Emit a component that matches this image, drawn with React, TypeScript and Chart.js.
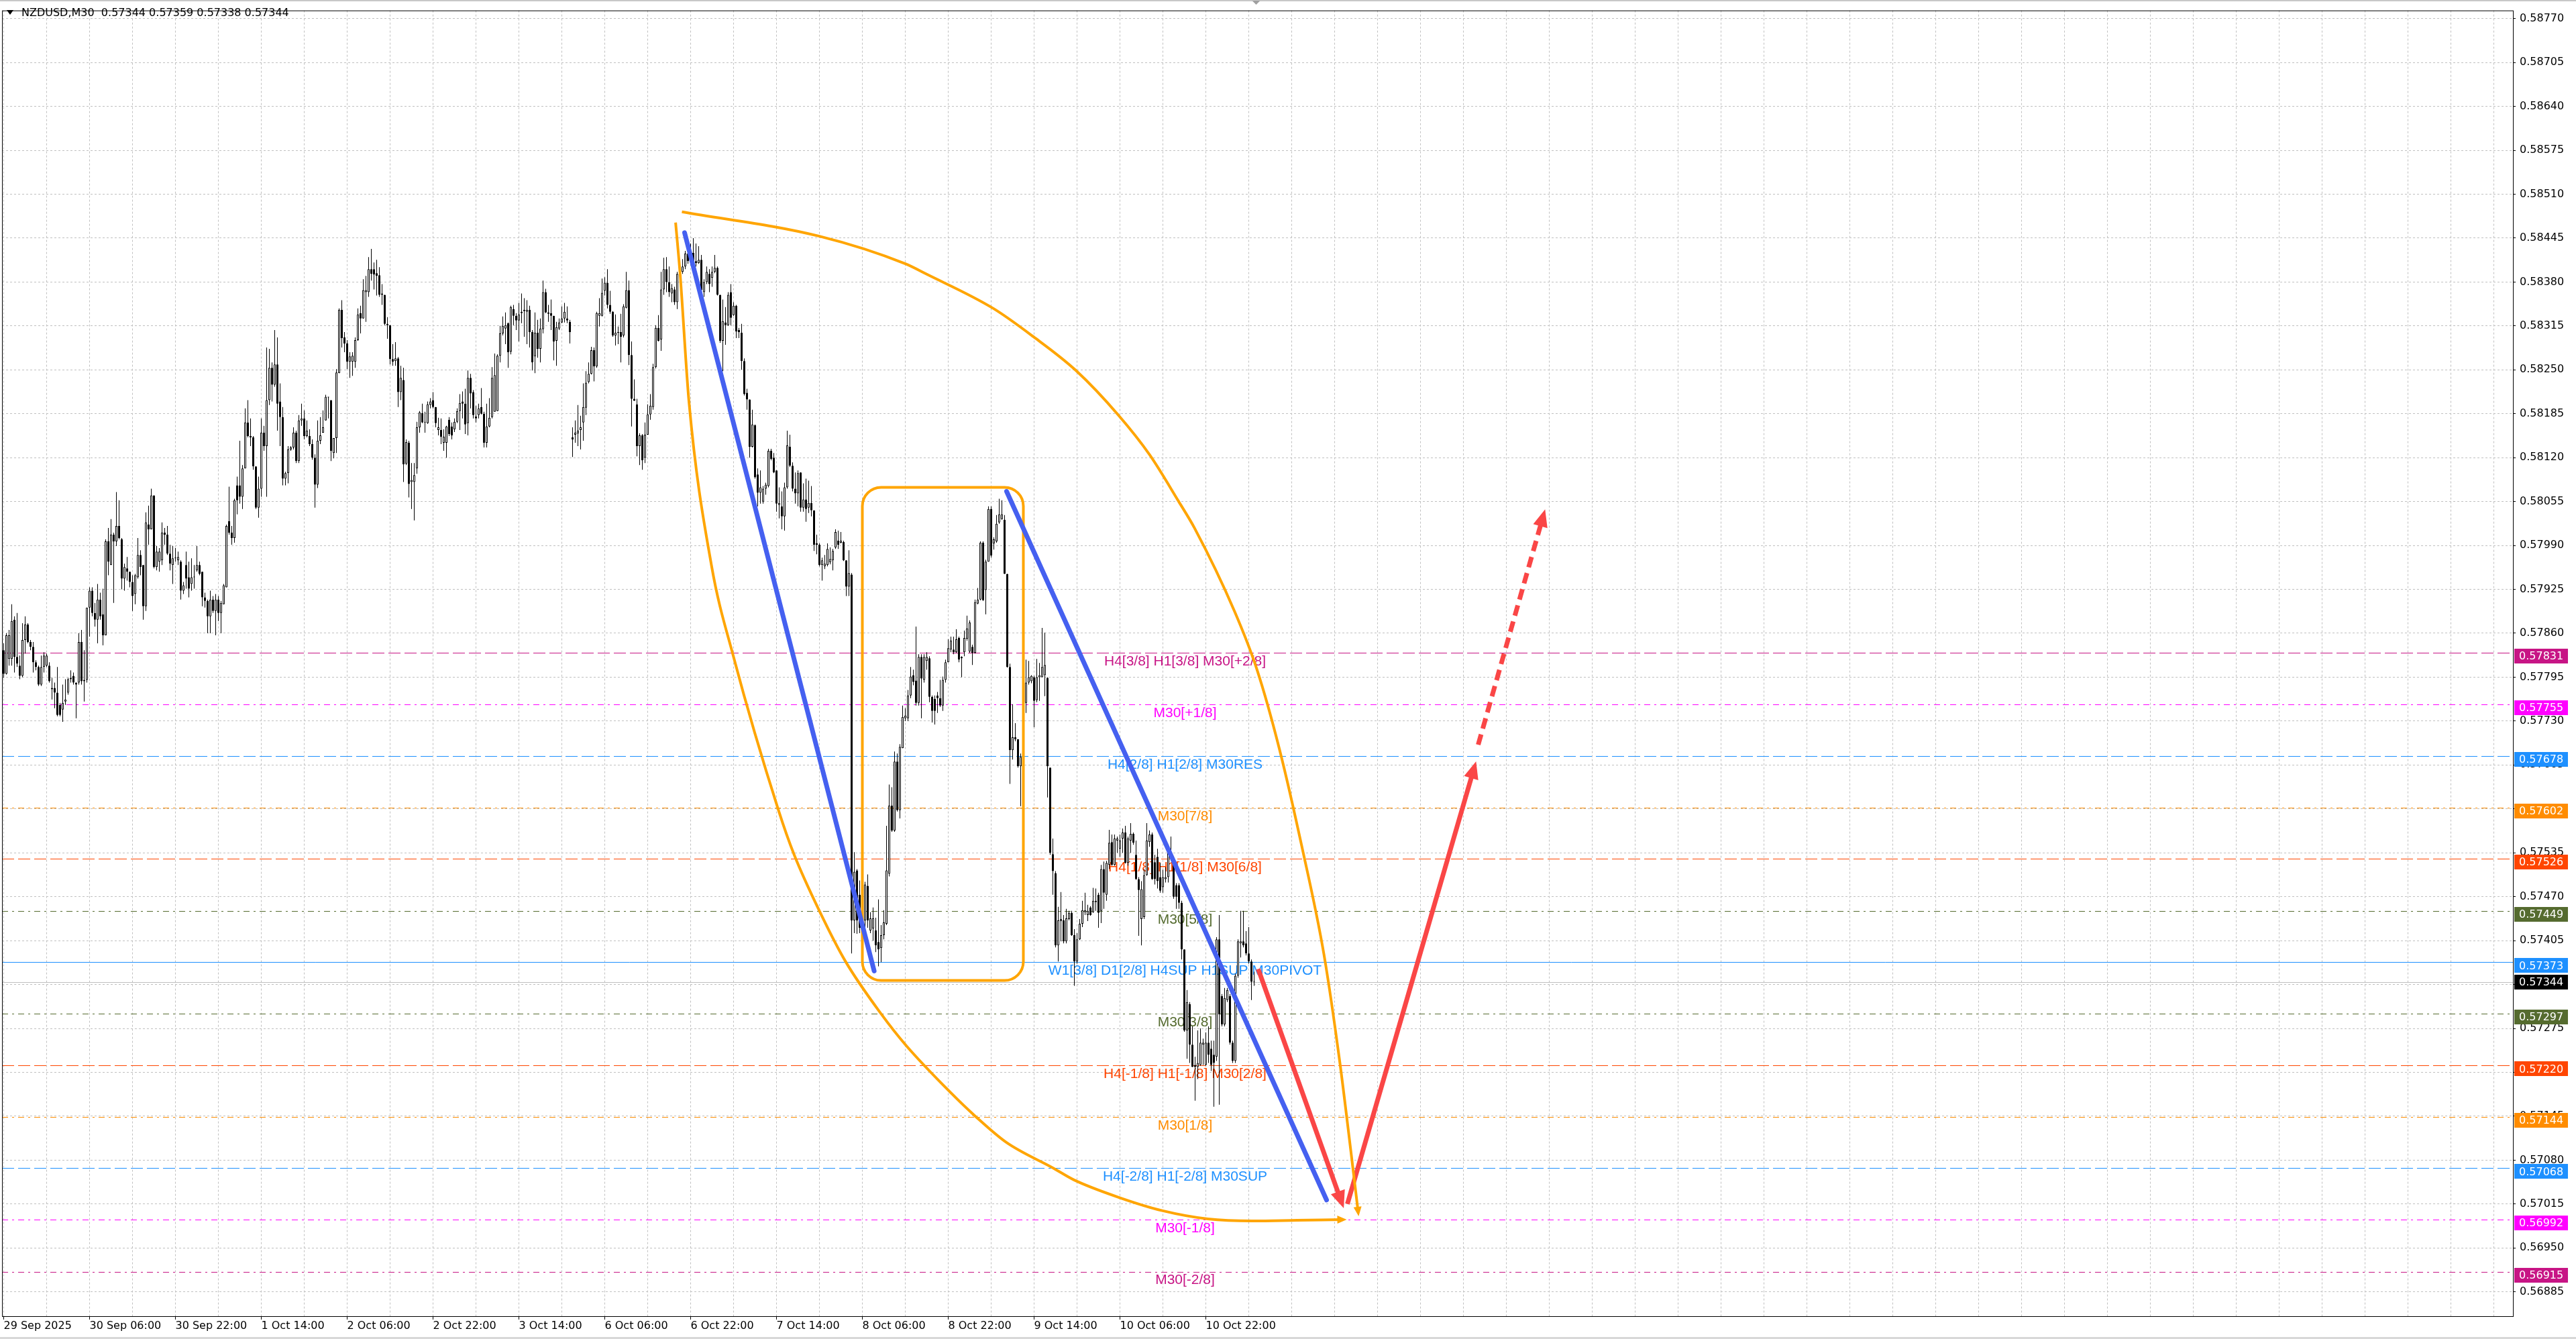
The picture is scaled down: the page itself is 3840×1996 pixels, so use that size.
import React, { useEffect, useRef } from 'react';
import { Chart, registerables } from 'chart.js';

Chart.register(...registerables);

// NZDUSD M30 candles, prices in 1e-5 units, bar 0 = 29 Sep 14:00
const opens = [
  57835,57800,57822,57822,57880,57825,57812,57797,57850,57873,57847,57840,57817,57810,57784,57810,57812,57812,57779,57779,
  57772,57754,57747,57759,57772,57792,57797,57787,57787,57847,57789,57791,57898,57923,57890,57880,57910,57888,57857,57996,
  57961,58006,57996,58019,57999,57941,57956,57951,57936,57918,57943,57976,57961,57900,58021,58014,58064,57958,57966,57968,
  58009,58006,57978,57961,57971,57968,57966,57923,57961,57943,57933,57943,57953,57961,57951,57913,57908,57885,57910,57893,
  57910,57890,57903,57928,58026,58009,58001,58079,58079,58062,58104,58172,58152,58150,58107,58046,58074,58157,58137,58205,
  58253,58228,58258,58203,58180,58089,58097,58132,58135,58157,58115,58175,58178,58152,58152,58140,58120,58080,58145,58157,
  58175,58209,58205,58127,58149,58245,58339,58298,58289,58262,58262,58262,58294,58334,58326,58365,58365,58399,58399,58393,
  58390,58363,58361,58318,58316,58266,58263,58267,58217,58235,58111,58142,58084,58084,58104,58165,58186,58173,58171,58198,
  58205,58195,58161,58161,58142,58142,58176,58166,58162,58173,58189,58203,58200,58171,58238,58217,58181,58183,58195,58185,
  58142,58166,58180,58188,58189,58271,58304,58311,58319,58277,58340,58330,58323,58334,58337,58336,58339,58306,58270,58305,
  58281,58310,58365,58335,58334,58330,58293,58311,58320,58326,58326,58321,58150,58154,58156,58161,58172,58194,58232,58244,
  58279,58255,58330,58330,58367,58379,58346,58336,58301,58306,58306,58301,58342,58368,58272,58207,58199,58137,58153,58120,
  58154,58184,58195,58254,58312,58295,58369,58399,58380,58363,58369,58350,58392,58395,58403,58422,58418,58423,58411,58408,
  58413,58365,58380,58392,58386,58395,58401,58361,58293,58320,58316,58365,58331,58345,58309,58305,58263,58216,58206,58136,
  58168,58095,58068,58055,58074,58078,58130,58120,58101,58050,58048,58033,58076,58136,58108,58074,58067,58098,58046,58058,
  58046,58053,58042,57993,57991,57961,57959,57961,57965,57968,57987,57997,57994,57995,57968,57929,57947,57435,57509,57473,
  57432,57435,57486,57420,57423,57420,57403,57394,57413,57430,57504,57605,57568,57670,57598,57690,57734,57734,57768,57798,
  57790,57757,57825,57791,57819,57823,57766,57763,57768,57764,57753,57791,57817,57836,57836,57832,57853,57825,57832,57852,
  57833,57840,57831,57904,57910,57994,57924,57966,58044,57993,57996,58024,58029,58028,57948,57810,57687,57706,57703,57663,
  57676,57757,57787,57789,57795,57761,57795,57795,57798,57794,57661,57533,57505,57398,57434,57435,57404,57437,57446,57413,
  57374,57407,57430,57447,57443,57454,57447,57462,57473,57449,57511,57473,57517,57551,57517,57553,57541,57556,57565,57520,
  57553,57563,57532,57496,57437,57440,57502,57551,57562,57521,57529,57499,57484,57496,57499,57535,57517,57487,57487,57461,
  57392,57272,57311,57251,57221,57218,57221,57251,57221,57254,57245,57236,57233,57407,57323,57281,57317,57323,57254,57227,
  57353,57401,57404,57401,57386,57374,57344,
];
const highs = [
  57845,57860,57865,57903,57885,57890,57827,57875,57885,57875,57850,57847,57820,57812,57827,57832,57830,57817,57794,57787,
  57810,57757,57784,57792,57794,57805,57802,57787,57860,57865,57835,57898,57928,57928,57905,57933,57920,57926,57999,58016,
  58029,58009,58069,58057,58001,57963,57973,57951,57946,57948,58001,57983,57961,58039,58049,58074,58064,57989,57986,58024,
  58016,58019,57991,57989,57986,57981,57968,57936,57981,57966,57971,57961,57989,57966,57951,57920,57910,57923,57915,57918,
  57915,57908,57933,58021,58077,58019,58059,58092,58145,58109,58193,58205,58178,58152,58107,58092,58178,58167,58283,58281,
  58261,58309,58298,58230,58195,58099,58137,58137,58165,58160,58183,58200,58190,58175,58162,58147,58125,58175,58180,58190,
  58213,58210,58205,58149,58251,58341,58353,58306,58294,58276,58276,58298,58341,58345,58384,58389,58417,58429,58409,58413,
  58402,58377,58361,58328,58316,58288,58291,58269,58256,58253,58147,58145,58112,58112,58173,58189,58200,58188,58203,58208,
  58217,58195,58179,58178,58162,58167,58180,58172,58178,58193,58214,58218,58222,58249,58244,58220,58197,58200,58223,58188,
  58200,58208,58254,58274,58273,58315,58329,58335,58320,58345,58346,58334,58349,58363,58356,58353,58345,58309,58335,58324,
  58326,58382,58370,58346,58354,58330,58321,58326,58344,58349,58344,58324,58165,58175,58198,58182,58230,58248,58261,58284,
  58283,58336,58356,58385,58387,58399,58367,58337,58332,58314,58333,58347,58395,58382,58292,58236,58207,58156,58155,58172,
  58199,58214,58259,58316,58331,58395,58416,58417,58403,58377,58373,58395,58407,58414,58426,58426,58437,58445,58437,58433,
  58420,58384,58403,58399,58403,58420,58403,58361,58354,58343,58365,58377,58350,58346,58312,58318,58267,58222,58206,58191,
  58169,58104,58101,58078,58083,58133,58133,58127,58101,58076,58070,58083,58160,58154,58113,58098,58101,58098,58082,58089,
  58086,58078,58042,58006,57993,57972,57976,57993,57987,57985,58014,58012,58010,57997,57968,57983,57949,57536,57511,57494,
  57480,57492,57503,57447,57454,57439,57466,57428,57450,57575,57636,57632,57685,57682,57696,57753,57749,57776,57810,57806,
  57870,57829,57829,57829,57832,57826,57768,57768,57773,57791,57796,57821,57851,57855,57855,57866,57855,57826,57864,57886,
  57879,57843,57910,57927,57996,57996,57969,58048,58048,58002,58035,58059,58057,58035,57948,57815,57755,57727,57703,57682,
  57770,57821,57819,57798,57797,57822,57816,57868,57861,57795,57661,57556,57508,57455,57477,57443,57452,57449,57449,57422,
  57416,57437,57464,57476,57458,57456,57483,57482,57476,57517,57522,57523,57569,57562,57562,57559,57562,57571,57575,57559,
  57579,57565,57553,57499,57493,57511,57579,57568,57565,57532,57541,57520,57510,57514,57547,57559,57519,57490,57490,57464,
  57392,57332,57314,57278,57233,57272,57275,57260,57269,57278,57257,57257,57410,57443,57326,57335,57335,57326,57257,57356,
  57407,57449,57449,57419,57425,57377,57359,
];
const lows = [
  57794,57799,57812,57812,57802,57810,57792,57795,57830,57845,57835,57802,57805,57782,57782,57802,57810,57787,57762,57749,
  57737,57737,57729,57754,57769,57787,57784,57734,57784,57784,57759,57787,57855,57885,57870,57845,57880,57842,57857,57946,
  57961,57905,57989,57999,57925,57923,57938,57928,57893,57903,57941,57946,57880,57893,57991,58014,57956,57953,57951,57961,
  57991,57976,57953,57933,57966,57961,57910,57918,57926,57913,57923,57926,57951,57946,57900,57898,57860,57860,57890,57857,
  57878,57860,57903,57928,58006,57991,57994,58036,58052,58044,58104,58150,58137,58102,58044,58031,58062,58130,58062,58198,
  58203,58225,58160,58137,58079,58079,58082,58130,58132,58112,58112,58167,58147,58150,58137,58117,58046,58075,58140,58157,
  58175,58178,58115,58119,58127,58245,58283,58276,58251,58238,58241,58253,58293,58304,58326,58321,58358,58382,58369,58360,
  58358,58346,58316,58296,58258,58256,58256,58195,58205,58084,58109,58061,58044,58027,58096,58157,58171,58157,58170,58193,
  58193,58165,58153,58140,58130,58120,58152,58147,58158,58171,58161,58178,58155,58153,58193,58178,58172,58178,58184,58135,
  58135,58165,58178,58188,58189,58261,58301,58288,58253,58273,58316,58309,58292,58319,58299,58288,58283,58249,58245,58268,
  58261,58304,58334,58321,58309,58264,58256,58309,58319,58320,58319,58289,58121,58142,58137,58132,58145,58183,58230,58243,
  58233,58253,58314,58329,58360,58341,58333,58299,58286,58288,58261,58298,58341,58257,58166,58204,58122,58109,58102,58112,
  58154,58176,58191,58252,58292,58278,58361,58365,58358,58350,58346,58340,58388,58392,58399,58407,58405,58405,58403,58407,
  58360,58358,58377,58365,58373,58393,58360,58290,58248,58287,58315,58316,58330,58297,58297,58250,58212,58191,58120,58135,
  58089,58048,58052,58052,58065,58076,58116,58097,58040,58030,58014,58012,58074,58106,58070,58052,58048,58040,58040,58025,
  58038,58033,57982,57977,57959,57938,57955,57959,57962,57953,57985,57985,57993,57967,57915,57915,57386,57416,57415,57416,
  57420,57416,57424,57416,57405,57388,57367,57373,57407,57428,57500,57566,57566,57596,57586,57690,57730,57730,57764,57783,
  57753,57753,57734,57787,57806,57758,57728,57725,57742,57751,57745,57787,57817,57832,57829,57831,57817,57795,57826,57849,
  57831,57813,57830,57903,57909,57908,57888,57966,57972,57984,57994,58022,58028,57948,57809,57637,57673,57700,57661,57604,
  57670,57742,57784,57786,57721,57758,57760,57795,57767,57617,57532,57473,57395,57374,57404,57401,57401,57435,57412,57338,
  57371,57406,57425,57443,57434,57442,57446,57449,57424,57431,57452,57464,57511,57516,57516,57535,57529,57535,57519,57516,
  57535,57547,57495,57412,57398,57437,57501,57544,57495,57488,57482,57476,57476,57491,57491,57523,57467,57452,57452,57377,
  57270,57230,57224,57218,57168,57200,57220,57221,57220,57224,57212,57159,57227,57162,57278,57278,57314,57251,57224,57224,
  57350,57380,57395,57383,57371,57317,57338,
];
const closes = [
  57800,57857,57857,57878,57825,57815,57797,57850,57873,57847,57840,57817,57810,57784,57810,57827,57827,57789,57777,57772,
  57739,57739,57757,57762,57792,57794,57787,57784,57847,57789,57791,57898,57923,57890,57880,57910,57885,57857,57996,57966,
  58006,57996,58019,58001,57941,57958,57951,57936,57915,57946,57976,57958,57900,58024,58014,58064,57958,57981,57981,58009,
  58006,57978,57963,57971,57971,57973,57923,57931,57941,57926,57943,57943,57961,57948,57913,57908,57885,57910,57893,57910,
  57890,57905,57931,58019,58009,58001,58057,58057,58062,58104,58172,58152,58150,58107,58046,58074,58157,58137,58205,58253,
  58228,58258,58200,58180,58089,58097,58132,58135,58157,58115,58175,58178,58152,58160,58140,58120,58080,58145,58153,58165,
  58210,58210,58130,58149,58246,58339,58297,58289,58262,58270,58271,58294,58332,58326,58368,58368,58399,58392,58391,58389,
  58361,58361,58318,58316,58266,58262,58267,58217,58238,58110,58143,58081,58087,58094,58165,58187,58172,58172,58199,58203,
  58195,58171,58165,58151,58151,58166,58155,58153,58173,58189,58201,58200,58169,58238,58215,58183,58178,58193,58185,58142,
  58166,58179,58238,58242,58271,58304,58315,58316,58276,58343,58330,58323,58332,58336,58339,58339,58306,58261,58305,58281,
  58311,58365,58335,58333,58330,58292,58313,58320,58326,58336,58323,58306,58147,58157,58160,58165,58195,58231,58244,58279,
  58255,58334,58334,58364,58379,58346,58336,58301,58305,58305,58299,58344,58368,58272,58207,58204,58137,58153,58116,58154,
  58184,58197,58254,58312,58293,58369,58399,58380,58365,58371,58350,58392,58403,58403,58422,58411,58423,58407,58408,58413,
  58368,58380,58395,58377,58395,58401,58361,58293,58322,58316,58361,58327,58345,58307,58306,58263,58214,58206,58136,58169,
  58091,58068,58076,58074,58080,58130,58118,58098,58052,58053,58033,58076,58138,58108,58074,58067,58097,58046,58058,58044,
  58053,58042,57991,57991,57961,57968,57963,57985,57970,57982,58010,57991,57997,57968,57929,57949,57435,57507,57435,57424,
  57462,57488,57435,57438,57438,57398,57392,57413,57432,57509,57605,57568,57670,57598,57692,57736,57738,57768,57796,57788,
  57757,57825,57793,57825,57825,57766,57745,57745,57764,57753,57791,57817,57838,57849,57832,57851,57821,57823,57853,57867,
  57876,57831,57906,57910,57994,57909,57966,58044,57975,57999,58022,58036,58036,57948,57810,57687,57706,57703,57663,57677,
  57760,57787,57795,57797,57760,57795,57798,57810,57813,57663,57535,57508,57398,57435,57437,57404,57438,57446,57413,57374,
  57407,57430,57450,57450,57449,57443,57464,57464,57446,57511,57476,57520,57550,57517,57556,57556,57553,57565,57520,57556,
  57563,57550,57496,57480,57481,57502,57553,57562,57496,57496,57493,57479,57499,57499,57535,57526,57470,57470,57461,57392,
  57272,57314,57251,57218,57218,57224,57254,57254,57254,57236,57221,57224,57407,57296,57281,57320,57332,57254,57227,57353,
  57404,57404,57398,57386,57374,57344,57344,
];

const symbol = 'NZDUSD';
const period = 'M30';

// time axis: one label every 32 bars
const timeLabels = [
  '29 Sep 2025', '30 Sep 06:00', '30 Sep 22:00', '1 Oct 14:00', '2 Oct 06:00', '2 Oct 22:00', '3 Oct 14:00',
  '6 Oct 06:00', '6 Oct 22:00', '7 Oct 14:00', '8 Oct 06:00', '8 Oct 22:00', '9 Oct 14:00', '10 Oct 06:00', '10 Oct 22:00',
];

const priceTicks = [
  58770, 58705, 58640, 58575, 58510, 58445, 58380, 58315, 58250, 58185, 58120, 58055, 57990, 57925, 57860,
  57795, 57730, 57665, 57600, 57535, 57470, 57405, 57340, 57275, 57210, 57145, 57080, 57015, 56950, 56885,
];

// Murrey math levels
const levelPrices = [57831, 57755, 57678, 57602, 57526, 57449, 57373, 57297, 57220, 57144, 57068, 56992, 56915];
const levelNames = [
  'H4[3/8] H1[3/8] M30[+2/8]', 'M30[+1/8]', 'H4[2/8] H1[2/8] M30RES', 'M30[7/8]', 'H4[1/8] H1[1/8] M30[6/8]',
  'M30[5/8]', 'W1[3/8] D1[2/8] H4SUP H1SUP M30PIVOT', 'M30[3/8]', 'H4[-1/8] H1[-1/8] M30[2/8]', 'M30[1/8]',
  'H4[-2/8] H1[-2/8] M30SUP', 'M30[-1/8]', 'M30[-2/8]',
];
const levelColors = ['#C71585', '#FF00FF', '#1E90FF', '#FF8C00', '#FF4500', '#556B2F', '#1E90FF', '#556B2F', '#FF4500', '#FF8C00', '#1E90FF', '#FF00FF', '#C71585'];
const levelStyles = ['dash', 'dashdot', 'dash', 'dashdot', 'dash', 'dashdot', 'solid', 'dashdot', 'dash', 'dashdot', 'dash', 'dashdot', 'dashdot'];
const labelBar = 440.25;

// drawn objects, [bar, price]
const blueA = [[253.75, 58453], [324.4, 57360]];
const blueB = [[373.75, 58070], [493, 57021]];
const redDown = [[467.5, 57363], [498.3, 57021]];
const redUp = [[500.75, 57015], [547.8, 57658]];
const redDash = [[549.5, 57695], [573.55, 58031]];
const arcLower = [
  [250.4, 58468], [252.1, 58391], [255.4, 58202], [263.75, 57961], [272, 57825], [288.75, 57598], [294.6, 57532],
  [304.6, 57444], [313.75, 57374], [327.1, 57296], [336.25, 57250], [352.9, 57180], [362.1, 57145], [373.75, 57106],
  [391.25, 57068], [398.75, 57051], [415.5, 57025], [432, 57005], [448.75, 56993], [465.5, 56990], [482, 56991],
  [498.75, 56992],
];
const arcUpper = [
  [252.75, 58484], [303.75, 58448], [336, 58407], [343.75, 58392], [368.75, 58341], [383.75, 58299], [399.6, 58249],
  [415.4, 58183], [427.1, 58124], [437.9, 58055], [443.75, 58016], [458.75, 57892], [467, 57807], [475.4, 57689],
  [483.75, 57545], [492, 57385], [497.9, 57226], [502, 57095], [504.75, 57004],
];
const boxBars = [320, 380];
const boxPrices = [58076, 57346];

const P = (v: number) => v / 100000;
const fmt = (v: number) => P(v).toFixed(5);
const dashes: Record<string, number[]> = { dash: [18, 6], dashdot: [9, 6, 3, 6], solid: [] };

const BLUE = '#4560F0';
const RED = '#FA4646';
const ORANGE = '#FFA500';
const FONT = '"DejaVu Sans", sans-serif';

const last = closes.length - 1;
const bars = closes.map((_, i) => i);

const toPts = (arr: number[][]) => arr.map(([i, v]) => ({ x: i, y: P(v) }));

const overlayLine = (arr: number[][], color: string, width: number, extra: any = {}) => ({
  type: 'line',
  data: toPts(arr),
  borderColor: color,
  borderWidth: width,
  pointRadius: 0,
  pointHoverRadius: 0,
  fill: false,
  order: 1,
  ...extra,
});

const drawHead = (ctx: CanvasRenderingContext2D, ax: number, ay: number, bx: number, by: number, len: number, wid: number, color: string) => {
  const dx = bx - ax;
  const dy = by - ay;
  const d = Math.hypot(dx, dy) || 1;
  const ux = dx / d;
  const uy = dy / d;
  const tx = bx + ux * len * 0.5;
  const ty = by + uy * len * 0.5;
  const baseX = tx - ux * len;
  const baseY = ty - uy * len;
  ctx.fillStyle = color;
  ctx.beginPath();
  ctx.moveTo(tx, ty);
  ctx.lineTo(baseX - uy * wid / 2, baseY + ux * wid / 2);
  ctx.lineTo(baseX + uy * wid / 2, baseY - ux * wid / 2);
  ctx.closePath();
  ctx.fill();
};

const mt4Plugin = {
  id: 'mt4Plugin',
  beforeDatasetsDraw(chart: any) {
    const { ctx, chartArea: a, scales } = chart;
    const { x, y } = scales;
    ctx.save();
    ctx.beginPath();
    ctx.rect(a.left, a.top, a.right - a.left, a.bottom - a.top);
    ctx.clip();
    ctx.lineWidth = 1;
    levelPrices.forEach((v, k) => {
      const py = Math.round(y.getPixelForValue(P(v))) + 0.5;
      ctx.strokeStyle = levelColors[k];
      ctx.setLineDash(dashes[levelStyles[k]]);
      ctx.beginPath();
      ctx.moveTo(a.left, py);
      ctx.lineTo(a.right, py);
      ctx.stroke();
    });
    // bid line
    const by = Math.round(y.getPixelForValue(P(closes[last]))) + 0.5;
    ctx.setLineDash([]);
    ctx.strokeStyle = '#C0C0C0';
    ctx.beginPath();
    ctx.moveTo(a.left, by);
    ctx.lineTo(a.right, by);
    ctx.stroke();
    // level labels
    ctx.font = '21px "Liberation Sans", Arial, sans-serif';
    ctx.textAlign = 'center';
    ctx.textBaseline = 'middle';
    const lx = x.getPixelForValue(labelBar);
    levelPrices.forEach((v, k) => {
      ctx.fillStyle = levelColors[k];
      ctx.fillText(levelNames[k], lx, y.getPixelForValue(P(v)) + 13);
    });
    ctx.restore();
  },
  afterDatasetDraw(chart: any, args: any) {
    if (args.index !== 1) return;
    const { ctx, scales } = chart;
    const { x, y } = scales;
    const x0 = x.getPixelForValue(boxBars[0]);
    const x1 = x.getPixelForValue(boxBars[1]);
    const y0 = y.getPixelForValue(P(boxPrices[0]));
    const y1 = y.getPixelForValue(P(boxPrices[1]));
    ctx.save();
    ctx.strokeStyle = ORANGE;
    ctx.lineWidth = 4;
    ctx.beginPath();
    ctx.roundRect(x0, y0, x1 - x0, y1 - y0, 28);
    ctx.stroke();
    ctx.restore();
  },
  afterDatasetsDraw(chart: any) {
    const { ctx } = chart;
    ctx.save();
    chart.data.datasets.forEach((ds: any, k: number) => {
      if (!ds.arrow) return;
      const pts = chart.getDatasetMeta(k).data;
      const n = pts.length;
      const p1 = pts[n - 2];
      const p2 = pts[n - 1];
      drawHead(ctx, p1.x, p1.y, p2.x, p2.y, ds.arrow[0], ds.arrow[1], ds.borderColor);
    });
    ctx.restore();
  },
  afterDraw(chart: any) {
    const { ctx, chartArea: a, scales, width, height } = chart;
    const { x, y } = scales;
    ctx.save();
    // frame
    ctx.fillStyle = '#C8C8C8';
    ctx.fillRect(0, 0, width, 2);
    ctx.fillStyle = '#D8D8D8';
    ctx.fillRect(0, height - 3, width, 3);
    ctx.strokeStyle = '#000';
    ctx.lineWidth = 1;
    ctx.setLineDash([]);
    ctx.strokeRect(a.left + 0.5, a.top + 0.5, a.right - a.left, a.bottom - a.top);
    // price boxes on the right scale
    ctx.font = `16px ${FONT}`;
    ctx.textAlign = 'left';
    ctx.textBaseline = 'middle';
    const bx = a.right + 2;
    levelPrices.forEach((v, k) => {
      const py = y.getPixelForValue(P(v)) + 5;
      ctx.fillStyle = levelColors[k];
      ctx.fillRect(bx, Math.round(py - 11), 80, 22);
      ctx.fillStyle = '#fff';
      ctx.fillText(fmt(v), bx + 7, py + 1);
    });
    const cy = y.getPixelForValue(P(closes[last]));
    ctx.fillStyle = '#000';
    ctx.fillRect(bx, Math.round(cy - 11), 80, 22);
    ctx.fillStyle = '#fff';
    ctx.fillText(fmt(closes[last]), bx + 7, cy + 1);
    // title
    ctx.fillStyle = '#000';
    ctx.beginPath();
    ctx.moveTo(10, 15);
    ctx.lineTo(20, 15);
    ctx.lineTo(15, 22);
    ctx.closePath();
    ctx.fill();
    ctx.fillText(`${symbol},${period}  ${fmt(opens[last])} ${fmt(highs[last])} ${fmt(lows[last])} ${fmt(closes[last])}`, 32, 20);
    // chart shift marker
    const sx = x.getPixelForValue(last) + 3;
    ctx.fillStyle = '#A0A0A0';
    ctx.beginPath();
    ctx.moveTo(sx - 6, 1);
    ctx.lineTo(sx + 6, 1);
    ctx.lineTo(sx, 7);
    ctx.closePath();
    ctx.fill();
    ctx.restore();
  },
};

const App: React.FC = () => {
  const canvasRef = useRef<HTMLCanvasElement>(null);
  const chartInstance = useRef<Chart | null>(null);

  useEffect(() => {
    document.body.style.margin = '0';
    document.body.style.overflow = 'hidden';
    if (!canvasRef.current) return;
    const ctx = canvasRef.current.getContext('2d');
    if (!ctx) return;
    if (chartInstance.current) chartInstance.current.destroy();

    const wickData = bars.map((i) => ({
      x: i,
      y: [P(Math.min(lows[i], opens[i], closes[i])), P(Math.max(highs[i], opens[i], closes[i]))],
    }));
    const bodyData = bars.map((i) => ({ x: i, y: [P(opens[i]), P(closes[i])] }));
    const bodyColors = bars.map((i) => (closes[i] > opens[i] ? '#FFFFFF' : '#000000'));

    chartInstance.current = new Chart(ctx, {
      type: 'bar',
      data: {
        datasets: [
          {
            type: 'bar',
            data: wickData,
            backgroundColor: '#000',
            borderWidth: 0,
            barThickness: 1,
            grouped: false,
            inflateAmount: 0,
            order: 3,
          },
          {
            type: 'bar',
            data: bodyData,
            backgroundColor: bodyColors,
            borderColor: '#000',
            borderWidth: 1,
            borderSkipped: false,
            barThickness: 3,
            minBarLength: 1,
            grouped: false,
            inflateAmount: 0,
            order: 2,
          },
          overlayLine(arcLower, ORANGE, 4, { cubicInterpolationMode: 'monotone', arrow: [14, 12] }),
          overlayLine(arcUpper, ORANGE, 4, { cubicInterpolationMode: 'monotone', arrow: [14, 12] }),
          overlayLine(blueA, BLUE, 7, { borderCapStyle: 'round' }),
          overlayLine(blueB, BLUE, 7, { borderCapStyle: 'round' }),
          overlayLine(redDown, RED, 7, { arrow: [26, 22] }),
          overlayLine(redUp, RED, 7, { arrow: [26, 22] }),
          overlayLine(redDash, RED, 7, { borderDash: [16, 9], arrow: [26, 22] }),
        ] as any,
      },
      options: {
        responsive: true,
        maintainAspectRatio: false,
        animation: false,
        events: [],
        layout: { padding: { left: 3, top: 4, right: 0, bottom: 0 } },
        plugins: {
          legend: { display: false },
          tooltip: { enabled: false },
        },
        scales: {
          x: {
            type: 'linear',
            min: -0.625,
            max: 935.125,
            offset: false,
            afterBuildTicks: (s: any) => {
              const t = [];
              for (let b = 0; b <= 928; b += 16) t.push({ value: b });
              s.ticks = t;
            },
            afterFit: (s: any) => {
              s.height = 34;
            },
            ticks: {
              autoSkip: false,
              maxRotation: 0,
              minRotation: 0,
              align: 'start',
              padding: 0,
              color: '#000',
              font: { family: FONT, size: 16 },
              callback: (v: any) => {
                const k = v / 32;
                return Number.isInteger(k) && k < timeLabels.length ? timeLabels[k] : '';
              },
            },
            grid: {
              offset: false,
              color: '#C0C0C0',
              lineWidth: 1,
              tickLength: 5,
              tickColor: (c: any) =>
                c.tick && c.tick.value % 32 === 0 && c.tick.value / 32 < timeLabels.length ? '#000' : 'rgba(0,0,0,0)',
            },
            border: { display: false, dash: [3, 3] },
          },
          y: {
            type: 'linear',
            position: 'right',
            min: 0.56849,
            max: 0.58782,
            afterBuildTicks: (s: any) => {
              s.ticks = priceTicks.map((v) => ({ value: P(v) }));
            },
            afterFit: (s: any) => {
              s.width = 94;
            },
            ticks: {
              autoSkip: false,
              padding: 6,
              color: '#000',
              font: { family: FONT, size: 16 },
              callback: (v: any) => Number(v).toFixed(5),
            },
            grid: {
              color: '#C0C0C0',
              lineWidth: 1,
              tickLength: 4,
              tickColor: '#000',
            },
            border: { display: false, dash: [3, 3] },
          },
        },
      } as any,
      plugins: [mt4Plugin],
    });

    return () => {
      if (chartInstance.current) {
        chartInstance.current.destroy();
        chartInstance.current = null;
      }
    };
  }, []);

  return (
    <div style={{ width: '100vw', height: '100vh', position: 'relative', background: '#fff' }}>
      <canvas ref={canvasRef}></canvas>
    </div>
  );
};

export default App;
